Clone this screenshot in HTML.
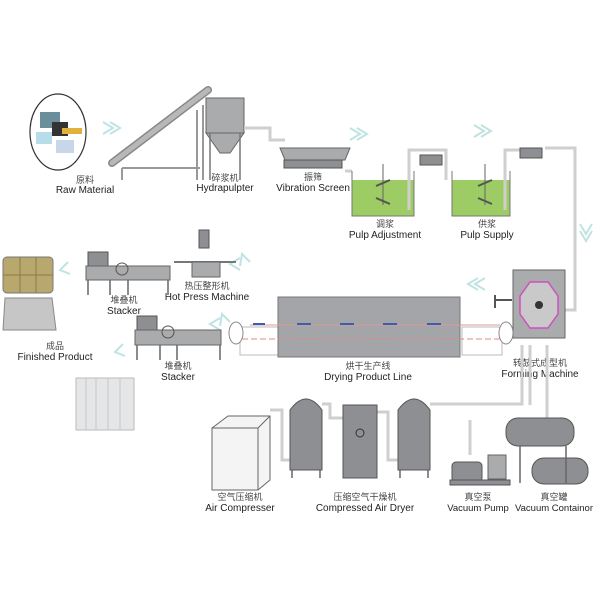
<!DOCTYPE html>
<html><head><meta charset="utf-8"><style>
html,body{margin:0;padding:0;background:#fff;}
svg text{font-family:"Liberation Sans","Noto Sans CJK SC",sans-serif;fill:#222;text-anchor:middle;}
.cn{font-size:9px;fill:#444;}
.en{font-size:10px;}
.arr{fill:none;stroke:#bfe3e3;stroke-width:2;}
.m{fill:#a9abad;stroke:#666;stroke-width:1;}
.d{fill:#8d8f92;stroke:#555;stroke-width:1;}
.p{fill:none;stroke:#cfcfcf;stroke-width:3;}
.l{stroke:#666;stroke-width:1.5;}
</style></head><body>
<svg width="600" height="600" viewBox="0 0 600 600" xmlns="http://www.w3.org/2000/svg">
<!-- raw material -->
<ellipse cx="58" cy="132" rx="28" ry="38" fill="#fff" stroke="#333" stroke-width="1.2"/>
<rect x="40" y="112" width="20" height="16" fill="#6a8f9a"/>
<rect x="52" y="122" width="16" height="14" fill="#333"/>
<rect x="36" y="132" width="16" height="12" fill="#b8dce8"/>
<rect x="56" y="140" width="18" height="13" fill="#c7d6e8"/>
<rect x="62" y="128" width="20" height="6" fill="#e0b23c"/>
<text class="cn" x="85" y="183">原料</text><text class="en" x="85" y="193">Raw Material</text>
<!-- arrows -->
<g class="arr">
<path d="M103 122 l10 6 l-10 6 M110 122 l10 6 l-10 6"/>
<path d="M350 128 l10 6 l-10 6 M357 128 l10 6 l-10 6"/>
<path d="M474 125 l10 6 l-10 6 M481 125 l10 6 l-10 6"/>
<path d="M580 224 l6 10 l6 -10 M580 231 l6 10 l6 -10"/>
<path d="M478 290 l-10 -6 l10 -6 M485 290 l-10 -6 l10 -6"/>
<path d="M240 270 l-10 -6 l10 -6"/><path d="M250 262 l-8 -8 l-2 12"/>
<path d="M220 330 l-10 -6 l10 -6"/><path d="M230 322 l-8 -8 l-2 12"/>
<path d="M70 274 l-10 -4 l8 -8"/><path d="M125 356 l-10 -4 l8 -8"/>
</g>
<!-- conveyor -->
<line x1="112" y1="163" x2="208" y2="90" stroke="#888" stroke-width="8" stroke-linecap="round"/>
<line x1="112" y1="163" x2="208" y2="90" stroke="#b8b8b8" stroke-width="5" stroke-linecap="round"/>
<path d="M122 168 V180 M122 168 H200 M197 110 V180 M203 105 V180" stroke="#999" stroke-width="2" fill="none"/>
<!-- hydrapulper -->
<rect class="m" x="206" y="98" width="38" height="35"/>
<path class="m" d="M206 133 L220 153 H230 L244 133 Z"/>
<path d="M210 133 V180 M240 133 V180" stroke="#777" stroke-width="1.5"/>
<path class="p" d="M244 128 H270 V140 H285"/>
<text class="cn" x="225" y="181">碎浆机</text><text class="en" x="225" y="191">Hydrapulpter</text>
<!-- vibration screen -->
<path class="m" d="M280 148 H350 L345 160 H285 Z"/>
<rect class="d" x="284" y="160" width="58" height="8"/>
<text class="cn" x="313" y="180">振筛</text><text class="en" x="313" y="191">Vibration Screen</text>
<!-- tanks -->
<path class="p" d="M345 171 H352"/>
<rect x="352" y="180" width="62" height="36" fill="#9ccc63"/>
<rect x="452" y="180" width="58" height="36" fill="#9ccc63"/>
<path d="M352 171 V216 H414 V171 M452 171 V216 H510 V171" fill="none" stroke="#777"/>
<path d="M383 164 V205 M485 164 V205" stroke="#666"/>
<path d="M376 186 l14 -6 M376 198 l14 6 M478 186 l14 -6 M478 198 l14 6" stroke="#555" stroke-width="2"/>
<path class="p" d="M409 210 V150 H420 M444 150 H446 V180 M505 210 V150 H520 M545 148 H575 V310 H565"/>
<path class="p" d="M420 150 H446 V170" />
<rect class="d" x="420" y="155" width="22" height="10"/><rect class="d" x="520" y="148" width="22" height="10"/>
<text class="cn" x="385" y="227">调浆</text><text class="en" x="385" y="238">Pulp Adjustment</text>
<text class="cn" x="487" y="227">供浆</text><text class="en" x="487" y="238">Pulp Supply</text>
<!-- forming machine -->
<rect class="m" x="513" y="270" width="52" height="68"/>
<polygon points="530,282 548,282 558,296 558,314 548,328 530,328 520,314 520,296" fill="#c9c9c9" stroke="#d050c0" stroke-width="1.5"/>
<circle cx="539" cy="305" r="4" fill="#333"/>
<path d="M495 308 V295 M495 300 H512" stroke="#555" stroke-width="2"/>
<text class="cn" x="540" y="366">转鼓式成型机</text><text class="en" x="540" y="377">Forming Machine</text>
<!-- drying line -->
<rect x="240" y="327" width="40" height="28" fill="#fff" stroke="#bbb"/>
<ellipse cx="236" cy="333" rx="7" ry="11" fill="#fff" stroke="#888"/>
<rect x="462" y="327" width="40" height="28" fill="#fff" stroke="#bbb"/>
<ellipse cx="506" cy="333" rx="7" ry="11" fill="#fff" stroke="#888"/>
<rect x="278" y="297" width="182" height="60" fill="#a3a5a8" stroke="#777"/>
<line x1="242" y1="339" x2="500" y2="339" stroke="#d88" stroke-dasharray="6,3"/>
<line x1="250" y1="325" x2="500" y2="325" stroke="#d99"/>
<g stroke="#3a5fb0" stroke-width="2"><path d="M253 324 h12 M297 324 h14 M340 324 h14 M383 324 h14 M427 324 h14"/></g>
<text class="cn" x="368" y="369">烘干生产线</text><text class="en" x="368" y="380">Drying Product Line</text>
<!-- hot press -->
<rect class="d" x="199" y="230" width="10" height="18"/>
<path d="M174 262 H236" stroke="#777" stroke-width="2"/>
<rect class="m" x="192" y="262" width="28" height="15"/>
<text class="cn" x="207" y="289">热压整形机</text><text class="en" x="207" y="300">Hot Press Machine</text>
<!-- stackers -->
<rect class="d" x="88" y="252" width="20" height="14"/>
<rect class="m" x="86" y="266" width="84" height="14"/>
<path d="M88 280 V295 M110 280 V295 M128 280 V295 M168 280 V295" class="l"/>
<circle cx="122" cy="269" r="6" fill="none" stroke="#555"/>
<text class="cn" x="124" y="303">堆叠机</text><text class="en" x="124" y="314">Stacker</text>
<rect class="d" x="137" y="316" width="20" height="14"/>
<rect class="m" x="135" y="330" width="86" height="15"/>
<path d="M137 345 V360 M160 345 V360 M177 345 V360 M220 345 V360" class="l"/>
<circle cx="168" cy="332" r="6" fill="none" stroke="#555"/>
<text class="cn" x="178" y="369">堆叠机</text><text class="en" x="178" y="380">Stacker</text>
<!-- finished product -->
<rect x="3" y="257" width="50" height="36" rx="4" fill="#b9a86e" stroke="#777"/>
<path d="M3 275 H53 M20 257 V293 M36 257 V293" stroke="#8a7a44"/>
<path d="M5 298 H52 L56 330 H3 Z" fill="#c6c6c6" stroke="#888"/>
<text class="cn" x="55" y="349">成品</text><text class="en" x="55" y="360">Finished Product</text>
<rect x="76" y="378" width="58" height="52" fill="#e4e6e8" stroke="#bbb"/>
<path d="M86 378 V430 M96 378 V430 M108 378 V430 M120 378 V430" stroke="#c4c6c8"/>
<!-- pipes bottom -->
<path class="p" d="M270 410 H282 V460 H290 M322 404 H330 V418 H343 M377 412 H388 V460 H398 M430 404 H522 V345 M530 345 V405 M547 345 V440 M470 420 V455"/>
<!-- air compressor -->
<path d="M212 428 L228 416 H270 V480 L258 490 H212 Z" fill="#f4f4f4" stroke="#666"/>
<path d="M212 428 H258 L270 416 M258 428 V490" stroke="#666" fill="none"/>
<text class="cn" x="240" y="500">空气压缩机</text><text class="en" x="240" y="511">Air Compresser</text>
<!-- tanks -->
<path class="d" d="M290 410 Q306 388 322 410 V470 H290 Z"/>
<path class="d" d="M398 410 Q414 388 430 410 V470 H398 Z"/>
<path d="M292 470 V478 M320 470 V478 M400 470 V478 M428 470 V478" class="l"/>
<rect class="d" x="343" y="405" width="34" height="73"/>
<circle cx="360" cy="433" r="4" fill="none" stroke="#333"/>
<text class="cn" x="365" y="500">压缩空气干燥机</text><text class="en" x="365" y="511">Compressed Air Dryer</text>
<!-- vacuum -->
<rect class="d" x="452" y="462" width="30" height="20" rx="4"/>
<rect class="m" x="488" y="455" width="18" height="24"/>
<rect class="d" x="450" y="480" width="60" height="5"/>
<text class="cn" x="478" y="500">真空泵</text><text class="en" x="478" y="511" style="font-size:9.5px">Vacuum Pump</text>
<rect class="d" x="506" y="418" width="68" height="28" rx="12"/>
<rect class="d" x="532" y="458" width="56" height="26" rx="12"/>
<path d="M520 446 V483 M566 446 V483" class="l"/>
<text class="cn" x="554" y="500">真空罐</text><text class="en" x="554" y="511" style="font-size:9.5px">Vacuum Containor</text>
</svg>
</body></html>
